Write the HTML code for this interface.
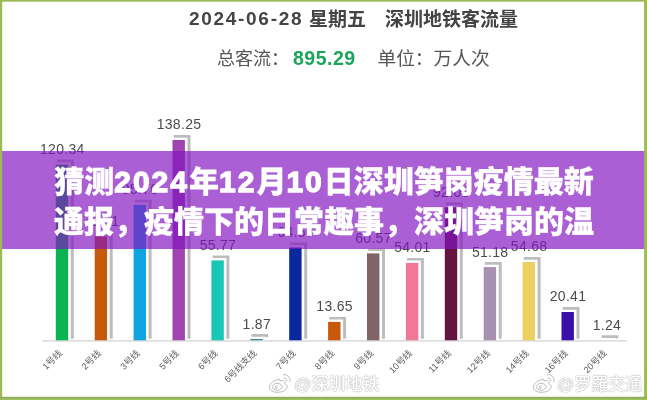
<!DOCTYPE html>
<html lang="zh-CN"><head><meta charset="utf-8"><title>深圳地铁客流量</title>
<style>
html,body{margin:0;padding:0}
body{width:647px;height:400px;position:relative;overflow:hidden;background:#fff;font-family:"Liberation Sans","Noto Sans CJK SC",sans-serif}
.frame{position:absolute;left:0;top:0;width:647px;height:400px;box-sizing:border-box;border-style:solid;border-color:#9dba58;border-width:1.7px 2.6px 3px 2.2px;pointer-events:none}
.v{font-family:"Liberation Sans",sans-serif;font-size:14px;letter-spacing:0.3px;fill:#4c4c4c;text-anchor:middle}
.a{font-family:"Liberation Sans","Noto Sans CJK SC",sans-serif;font-size:9.1px;fill:#5c5c5c;text-anchor:end}
.t1{position:absolute;top:7px;height:24px;line-height:24px;font-size:19px;font-weight:bold;color:#444;white-space:pre}
.t2{position:absolute;top:45px;height:24px;line-height:24px;font-size:18px;color:#555;white-space:pre}
.num{letter-spacing:1.7px}
.g{color:#1ba45c;font-weight:bold;font-size:19.5px;letter-spacing:0.5px}
.wb{position:absolute}
.wm{position:absolute;top:375.2px;height:20px;line-height:20px;font-size:17px;font-weight:500;color:#fff;text-shadow:0 0 1px #a0a0a0,0 0 1.5px #b4b4b4;white-space:nowrap}
.banner{position:absolute;left:0;top:150.5px;width:647px;height:98px;background:rgba(130,20,192,0.68)}
.banner p{margin:0;position:absolute;left:0;top:11.5px;width:648px;text-align:center;font-size:30px;line-height:40px;font-weight:900;color:#fff;-webkit-text-stroke:0.3px #fff;font-family:"Liberation Sans","Noto Sans CJK SC",sans-serif}
.banner b{font-weight:bold;letter-spacing:2px;-webkit-text-stroke:1.3px #fff}
</style></head><body>
<div class="t1" style="left:189px"><span class="num">2024-06-28</span></div>
<div class="t1" style="left:309px;top:8.2px">星期五</div>
<div class="t1" style="left:385px;top:8.2px">深圳地铁客流量</div>
<div class="t2" style="left:217px;top:46.5px">总客流：</div>
<div class="t2 g" style="left:293px;top:45.5px">895.29</div>
<div class="t2" style="left:377.5px;top:46.5px;font-size:18.7px">单位：万人次</div>
<svg width="647" height="400" viewBox="0 0 647 400" style="position:absolute;left:0;top:0">
<rect x="42.5" y="340.3" width="584.5" height="1.2" fill="#d2d0d2"/>
<path d="M57.0 159.6H73.8V338.7H70.8V162.3H57.0Z" fill="#bdbdbd"/>
<rect x="55.8" y="164.6" width="12.4" height="175.7" fill="#0AB252"/>
<text x="62.3" y="154.0" class="v">120.34</text>
<text transform="translate(62.7 353.7) rotate(-45)" class="a">1号线</text>
<path d="M95.9 231.4H112.7V338.7H109.7V234.1H95.9Z" fill="#bdbdbd"/>
<rect x="94.7" y="236.4" width="12.4" height="103.9" fill="#C45A0A"/>
<text x="101.2" y="225.8" class="v">70.91</text>
<text transform="translate(101.6 353.7) rotate(-45)" class="a">2号线</text>
<path d="M134.8 199.8H151.6V338.7H148.6V202.5H134.8Z" fill="#bdbdbd"/>
<rect x="133.6" y="204.8" width="12.4" height="135.5" fill="#10A4E0"/>
<text x="140.1" y="194.2" class="v">95.76</text>
<text transform="translate(140.5 353.7) rotate(-45)" class="a">3号线</text>
<path d="M173.7 135.0H190.5V338.7H187.5V137.7H173.7Z" fill="#bdbdbd"/>
<rect x="172.5" y="140.0" width="12.4" height="200.3" fill="#A044B0"/>
<text x="179.0" y="129.4" class="v">138.25</text>
<text transform="translate(179.4 353.7) rotate(-45)" class="a">5号线</text>
<path d="M212.6 255.4H229.4V338.7H226.4V258.1H212.6Z" fill="#bdbdbd"/>
<rect x="211.4" y="260.4" width="12.4" height="79.9" fill="#18C8B4"/>
<text x="217.9" y="249.8" class="v">55.77</text>
<text transform="translate(218.3 353.7) rotate(-45)" class="a">6号线</text>
<path d="M251.5 334.0H268.3V337.3H265.3V336.7H251.5Z" fill="#bdbdbd"/>
<rect x="250.3" y="339.0" width="12.4" height="1.3" fill="#3A8C8C"/>
<text x="256.8" y="329.4" class="v">1.87</text>
<text transform="translate(257.2 353.7) rotate(-45)" class="a">6号线支线</text>
<path d="M290.4 242.5H307.2V338.7H304.2V245.2H290.4Z" fill="#bdbdbd"/>
<rect x="289.2" y="247.5" width="12.4" height="92.8" fill="#0828A0"/>
<text x="295.7" y="236.9" class="v">64.57</text>
<text transform="translate(296.1 353.7) rotate(-45)" class="a">7号线</text>
<path d="M329.3 316.9H346.1V338.7H343.1V319.6H329.3Z" fill="#bdbdbd"/>
<rect x="328.1" y="321.9" width="12.4" height="18.4" fill="#C8580A"/>
<text x="334.6" y="311.3" class="v">13.65</text>
<text transform="translate(335.0 353.7) rotate(-45)" class="a">8号线</text>
<path d="M368.2 248.4H385.0V338.7H382.0V251.1H368.2Z" fill="#bdbdbd"/>
<rect x="367.0" y="253.4" width="12.4" height="86.9" fill="#806468"/>
<text x="373.5" y="242.8" class="v">60.57</text>
<text transform="translate(373.9 353.7) rotate(-45)" class="a">9号线</text>
<path d="M407.1 257.9H423.9V338.7H420.9V260.6H407.1Z" fill="#bdbdbd"/>
<rect x="405.9" y="262.9" width="12.4" height="77.4" fill="#F07896"/>
<text x="412.4" y="252.3" class="v">54.01</text>
<text transform="translate(412.8 353.7) rotate(-45)" class="a">10号线</text>
<path d="M446.0 202.4H462.8V338.7H459.8V205.1H446.0Z" fill="#bdbdbd"/>
<rect x="444.8" y="207.4" width="12.4" height="132.9" fill="#641440"/>
<text x="451.3" y="196.8" class="v">92.08</text>
<text transform="translate(451.7 353.7) rotate(-45)" class="a">11号线</text>
<path d="M484.9 262.1H501.7V338.7H498.7V264.8H484.9Z" fill="#bdbdbd"/>
<rect x="483.7" y="267.1" width="12.4" height="73.2" fill="#A890B0"/>
<text x="490.2" y="256.5" class="v">51.18</text>
<text transform="translate(490.6 353.7) rotate(-45)" class="a">12号线</text>
<path d="M523.8 257.0H540.6V338.7H537.6V259.7H523.8Z" fill="#bdbdbd"/>
<rect x="522.6" y="262.0" width="12.4" height="78.3" fill="#ECD060"/>
<text x="529.1" y="251.4" class="v">54.68</text>
<text transform="translate(529.5 353.7) rotate(-45)" class="a">14号线</text>
<path d="M562.7 307.0H579.5V338.7H576.5V309.7H562.7Z" fill="#bdbdbd"/>
<rect x="561.5" y="312.0" width="12.4" height="28.3" fill="#3810A8"/>
<text x="568.0" y="301.4" class="v">20.41</text>
<text transform="translate(568.4 353.7) rotate(-45)" class="a">16号线</text>
<path d="M601.6 335.3H618.4V338.6H615.4V338.0H601.6Z" fill="#bdbdbd"/>
<text x="606.9" y="329.7" class="v">1.24</text>
<text transform="translate(607.3 353.7) rotate(-45)" class="a">20号线</text>
</svg>
<svg class="wb" style="left:268px;top:373px" width="25" height="20" viewBox="0 0 25 20">
<g fill="#fff" stroke="#b4b4b4" stroke-width="0.9">
<path d="M10 6.5c-4.2 0.6-8.6 4-8.6 7.8 0 3 3.6 5 8.4 5 5.2 0 9.400-2.600 9.400-5.600 0-1.600-1.200-2.500-2.500-2.900 0.500-1.200 0.400-2.300-0.500-2.900-1-0.700-2.700-0.400-4.300 0.300 0.500-1.500 0.100-2.300-1.900-1.700z"/>
<ellipse cx="9.300" cy="13.800" rx="4.800" ry="3.500"/>
<circle cx="8.300" cy="14.300" r="1.300"/>
<path d="M15.500 5.300c2-0.500 3.800 1.200 3.300 3.300" fill="none"/>
<path d="M15 1.800c4.300-1 8 2.700 6.800 7" fill="none"/>
</g></svg>
<div class="wm" style="left:294px">@深圳地铁</div>
<svg class="wb" style="left:532px;top:373px" width="25" height="20" viewBox="0 0 25 20">
<g fill="#fff" stroke="#b4b4b4" stroke-width="0.9">
<path d="M10 6.5c-4.2 0.6-8.6 4-8.6 7.8 0 3 3.6 5 8.4 5 5.2 0 9.400-2.600 9.400-5.600 0-1.600-1.200-2.500-2.500-2.900 0.500-1.200 0.400-2.300-0.500-2.900-1-0.700-2.700-0.400-4.300 0.300 0.500-1.500 0.100-2.300-1.900-1.700z"/>
<ellipse cx="9.300" cy="13.800" rx="4.800" ry="3.500"/>
<circle cx="8.300" cy="14.300" r="1.300"/>
<path d="M15.500 5.300c2-0.500 3.800 1.200 3.300 3.300" fill="none"/>
<path d="M15 1.800c4.300-1 8 2.700 6.800 7" fill="none"/>
</g></svg>
<div class="wm" style="left:557px">@罗羅交通</div>
<div class="banner"><p>猜测<b>2024</b>年<b>12</b>月<b>10</b>日深圳笋岗疫情最新<br>通报，疫情下的日常趣事，深圳笋岗的温</p></div>
<svg width="647" height="400" viewBox="0 0 647 400" style="position:absolute;left:0;top:0">
<defs><linearGradient id="bg" x1="0" y1="0" x2="0" y2="1"><stop offset="0" stop-color="#8aa65c"/><stop offset="0.45" stop-color="#95b35a"/><stop offset="1" stop-color="#a6c662"/></linearGradient></defs>
<rect x="0" y="0" width="647" height="1.7" fill="#9dba58"/>
<rect x="0" y="0" width="2.2" height="400" fill="#9dba58"/>
<rect x="644.1" y="0" width="2.9" height="400" fill="#9dba58"/>
<rect x="0" y="396.8" width="647" height="3.2" fill="url(#bg)"/>
</svg>
</body></html>
